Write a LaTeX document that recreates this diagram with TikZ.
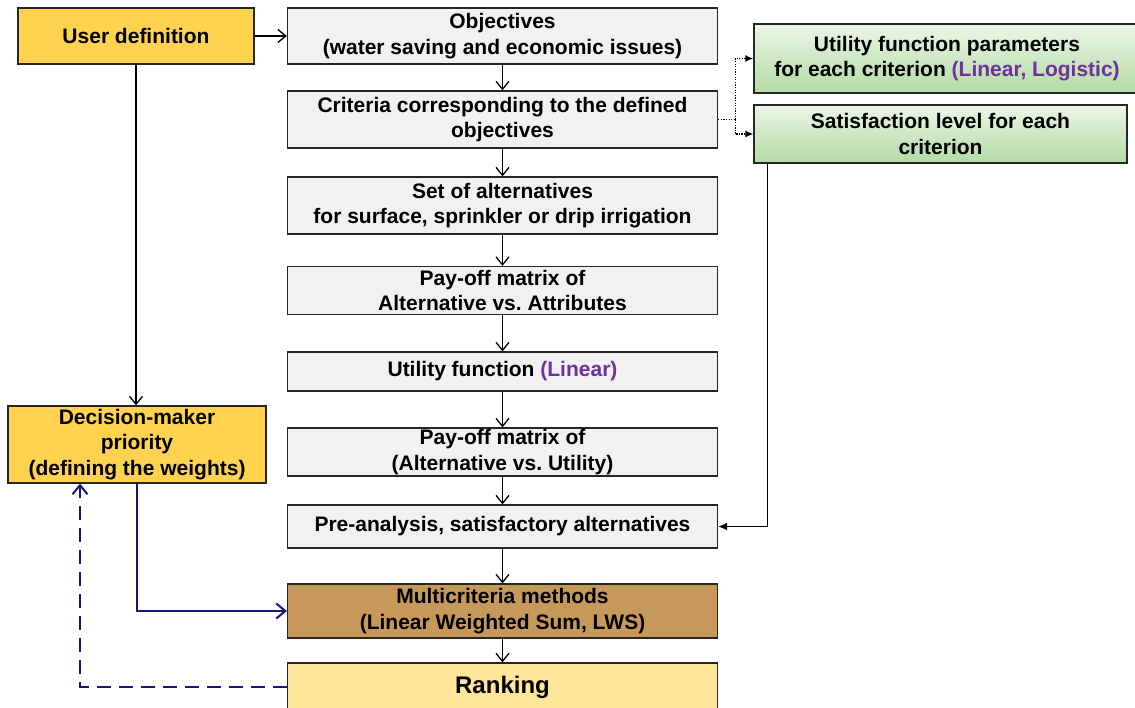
\documentclass[tikz,border=0pt]{standalone}
\usepackage{fontspec}
\setmainfont{Liberation Sans}
\usetikzlibrary{arrows.meta}
\frenchspacing
\definecolor{gold}{RGB}{255,211,79}
\definecolor{boxgray}{RGB}{242,240,241}
\definecolor{mcbrown}{RGB}{198,152,90}
\definecolor{rankyellow}{RGB}{255,230,153}
\definecolor{accent}{RGB}{112,48,160}
\definecolor{navyline}{RGB}{22,22,125}
\definecolor{greentop}{RGB}{236,245,232}
\definecolor{greenbot}{RGB}{178,218,163}
\begin{document}
\begin{tikzpicture}[x=1pt,y=-1pt,
  font=\fontsize{21}{25.5}\selectfont\bfseries,
  box/.style={draw=black!85, line width=1.3pt, inner sep=0pt, align=center},
  graybox/.style={box, fill=boxgray, minimum width=430pt},
  goldbox/.style={box, fill=gold},
  greenbox/.style={box, top color=greentop, bottom color=greenbot},
  flow/.style={line width=1.3pt, -{Straight Barb[length=8pt,width=13pt,line width=1.3pt]}},
  dotflow/.style={line width=1.3pt, dash pattern=on 1.3pt off 1.3pt, -{Latex[length=8pt,width=7pt]}},
  solidtip/.style={line width=1.3pt, -{Latex[length=9pt,width=8pt]}},
  navyflow/.style={navyline, line width=2pt, -{Straight Barb[length=9pt,width=15pt,line width=2pt]}},
  navydash/.style={navyline, line width=2pt, dash pattern=on 14pt off 8pt, -{Straight Barb[length=9pt,width=15pt,line width=2pt]}}]
\useasboundingbox (0,0) rectangle (1135,708);

% left column: user inputs
\node[goldbox, minimum width=236pt, minimum height=56pt] (user) at (136,36) {User definition};
\node[goldbox, minimum width=258pt, minimum height=77pt] (dm) at (137,444.5)
  {Decision-maker\\priority\\(defining the weights)};

% main chain
\node[graybox, minimum height=56pt] (obj) at (502.5,36)
  {Objectives\\(water saving and economic issues)};
\node[graybox, minimum height=57pt] (crit) at (502.5,119.5)
  {Criteria corresponding to the defined\\objectives};
\node[graybox, minimum height=57pt] (alt) at (502.5,205.5)
  {Set of alternatives\\for surface, sprinkler or drip irrigation};
\node[graybox, minimum height=48pt] (pay1) at (502.5,290.5)
  {Pay-off matrix of\\Alternative vs. Attributes};
\node[graybox, minimum height=39pt] (util) at (502.5,371.5)
  {Utility function {\color{accent}(Linear)}};
\node[graybox, minimum height=48pt] (pay2) at (502.5,452)
  {Pay-off matrix of\\(Alternative vs. Utility)};
\node[graybox, minimum height=43pt] (pre) at (502.5,526.5)
  {Pre-analysis, satisfactory alternatives};
\node[box, fill=mcbrown, minimum width=430pt, minimum height=54pt] (multi) at (502.5,611)
  {Multicriteria methods\\(Linear Weighted Sum, LWS)};
\node[box, fill=rankyellow, minimum width=430pt, minimum height=48pt,
  font=\fontsize{24}{28}\selectfont\bfseries] (rank) at (502.5,687) {Ranking};

% right column: criterion settings
\node[greenbox, minimum width=386pt, minimum height=69pt] (g1) at (947,58.5)
  {Utility function parameters\\for each criterion {\color{accent}(Linear, Logistic)}};
\node[greenbox, minimum width=373pt, minimum height=58pt] (g2) at (940.5,134)
  {Satisfaction level for each\\criterion};

% connectors
\draw[flow] (user) -- (obj);
\draw[flow] (obj) -- (crit);
\draw[flow] (crit) -- (alt);
\draw[flow] (alt) -- (pay1);
\draw[flow] (pay1) -- (util);
\draw[flow] (util) -- (pay2);
\draw[flow] (pay2) -- (pre);
\draw[flow] (pre) -- (multi);
\draw[flow] (multi) -- (rank);
\draw[flow] (user.south) -- (user.south |- dm.north);

\draw[line width=1.3pt, dash pattern=on 1.3pt off 1.3pt] (crit.east) -- ++(17,0) coordinate (split);
\draw[dotflow] (split) |- (g1.west);
\draw[dotflow] (split) |- (g2.west);
\draw[solidtip] ([xshift=14pt]g2.south west) |- (pre.east);

\draw[navyflow] (dm.south) |- (multi.west);
\draw[navydash] (rank.west) -| ([xshift=-57pt]dm.south);
\end{tikzpicture}
\end{document}
